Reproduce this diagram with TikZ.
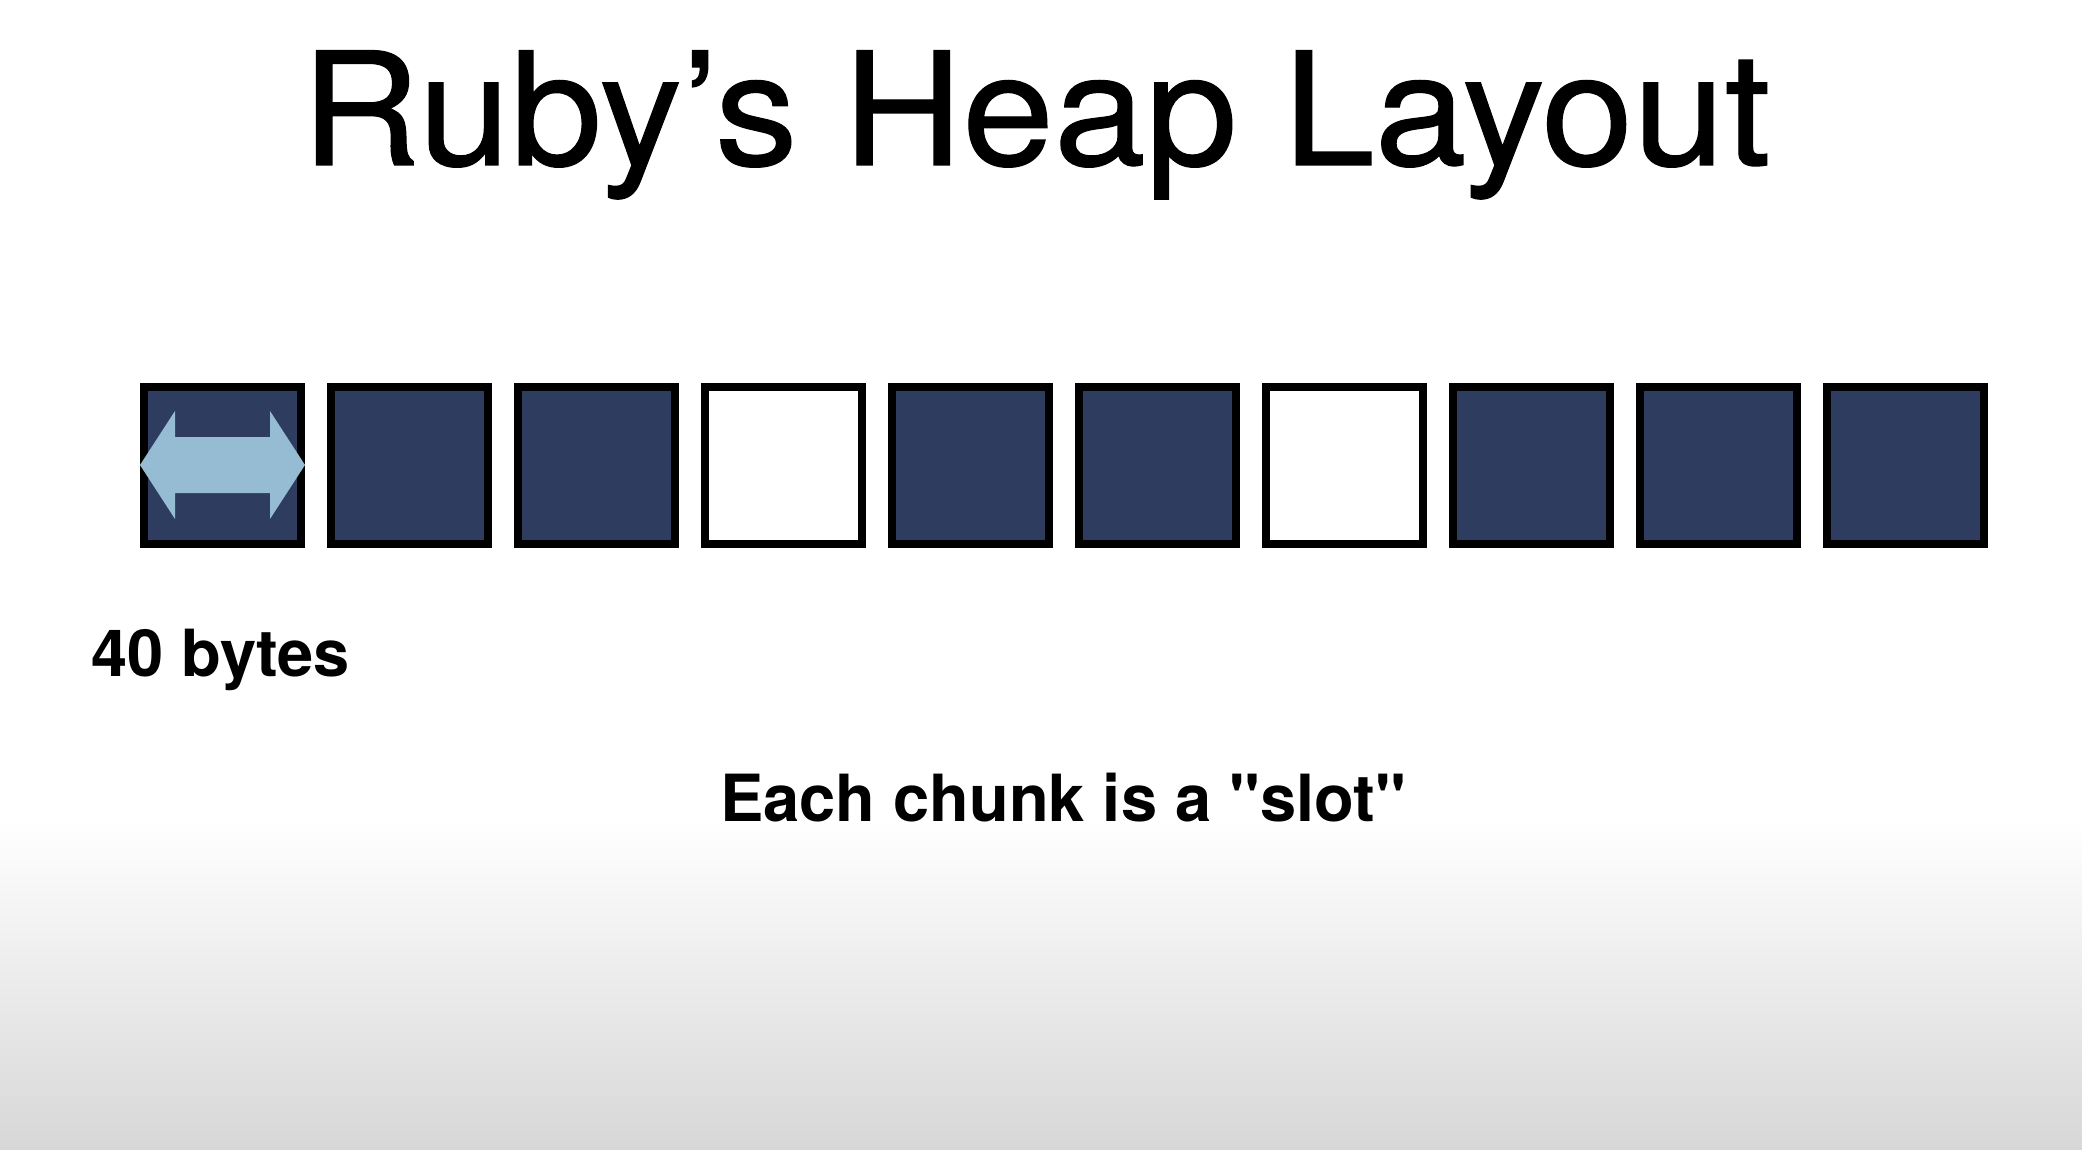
\documentclass[tikz,border=0pt]{standalone}
\usepackage{fontspec}
\setmainfont{TeX Gyre Heros}[Ligatures=TeXOff]
\newfontfamily\titlefont{TeX Gyre Heros}[Ligatures=TeXOff,FakeBold=0.8,FakeStretch=1.05]
\definecolor{navy}{HTML}{2E3D5F}
\definecolor{lightarrow}{HTML}{95BCD2}
\definecolor{bottomgray}{HTML}{D6D7D6}
\begin{document}
\begin{tikzpicture}[x=1pt,y=-1pt,
  slotbox/.style={draw=black,line width=8pt,minimum size=157pt,inner sep=0pt,outer sep=0pt,fill=navy},
  freebox/.style={slotbox,fill=white},
  titletext/.style={font=\titlefont\fontsize{157}{160}\selectfont,inner sep=0pt},
  labeltext/.style={font=\bfseries\fontsize{65}{68}\selectfont,inner sep=0pt}]
\useasboundingbox (0,0) rectangle (2082,1150);
\fill[white] (0,0) rectangle (2082,1150);
\shade[top color=white,bottom color=bottomgray] (0,820) rectangle (2082,1150);
\node[titletext,anchor=base] (title) at (1036,165) {Ruby’s Heap Layout};
\foreach \i/\sty in {0/slotbox,1/slotbox,2/slotbox,3/freebox,4/slotbox,5/slotbox,6/freebox,7/slotbox,8/slotbox,9/slotbox}{
  \node[\sty] (s\i) at ({222.5+187*\i},465.5) {};
}
\fill[lightarrow] (140,465) -- (175,411) -- (175,437) -- (270,437) -- (270,411) -- (305,465)
  -- (270,519) -- (270,493) -- (175,493) -- (175,519) -- cycle;
\node[labeltext,anchor=base west] (bytes) at (91,676) {40 bytes};
\node[labeltext,font=\bfseries\fontsize{65}{68}\selectfont,anchor=base] (slotlbl) at (1063,821) {Each chunk is a "slot"};
\end{tikzpicture}
\end{document}
